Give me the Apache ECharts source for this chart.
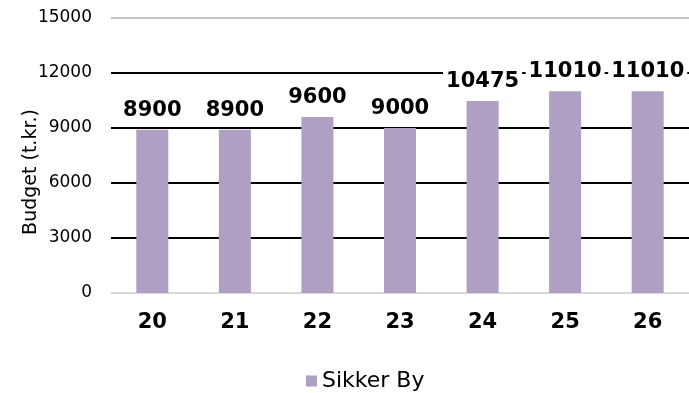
<!DOCTYPE html>
<html>
<head>
<meta charset="utf-8">
<script src="https://cdn.jsdelivr.net/npm/echarts@6/dist/echarts.min.js"></script>
<style>
  html, body { margin: 0; padding: 0; background: #fff; }
  #chart { width: 689px; height: 393px; }
</style>
</head>
<body>
<div id="chart"></div>
<script>
// Budget for "Sikker By" per year (thousand kr.)
const years = ['20', '21', '22', '23', '24', '25', '26'];
const budget = [8900, 8900, 9600, 9000, 10475, 11010, 11010];
const seriesName = 'Sikker By';
const axisTitle = 'Budget (t.kr.)';

const FONT = '"DejaVu Sans", sans-serif';
const chart = echarts.init(document.getElementById('chart'), null, { renderer: 'canvas' });

chart.setOption({
  animation: false,
  backgroundColor: '#ffffff',
  grid: { left: 111, right: -2, top: 18, bottom: 100, containLabel: false },
  legend: {
    data: [seriesName],
    left: 301,
    top: 365,
    itemWidth: 11,
    itemHeight: 11,
    icon: 'rect',
    itemGap: 10,
    textStyle: { fontFamily: FONT, fontSize: 22, color: '#000', padding: [0, 0, 0, 0] }
  },
  xAxis: {
    type: 'category',
    data: years,
    axisLine: { show: true, lineStyle: { color: '#d9d9d9', width: 1.5 } },
    axisTick: { show: false },
    axisLabel: {
      margin: 19,
      fontFamily: FONT,
      fontWeight: 'bold',
      fontSize: 21,
      color: '#000'
    }
  },
  yAxis: {
    type: 'value',
    min: 0,
    max: 15000,
    interval: 3000,
    axisLine: { show: false },
    axisTick: { show: false },
    axisLabel: {
      margin: 19,
      fontFamily: FONT,
      fontSize: 17,
      color: '#000',
      formatter: (v) => String(v)
    },
    splitLine: {
      show: true,
      lineStyle: {
        color: ['#d9d9d9', '#000000', '#000000', '#000000', '#000000', '#c4c4c4'],
        width: 2
      }
    }
  },
  graphic: [{
    type: 'text',
    x: 31,
    y: 172,
    rotation: Math.PI / 2,
    style: {
      text: axisTitle,
      fontFamily: FONT,
      fontSize: 19,
      fill: '#000',
      align: 'center',
      verticalAlign: 'middle'
    }
  }],
  series: [{
    name: seriesName,
    type: 'bar',
    data: budget,
    barWidth: 32,
    itemStyle: { color: '#ae9fc3' },
    label: {
      show: true,
      position: 'top',
      distance: 8,
      fontFamily: FONT,
      fontWeight: 'bold',
      fontSize: 21,
      color: '#000',
      backgroundColor: '#ffffff',
      padding: [1, 3]
    }
  }]
});
</script>
</body>
</html>
